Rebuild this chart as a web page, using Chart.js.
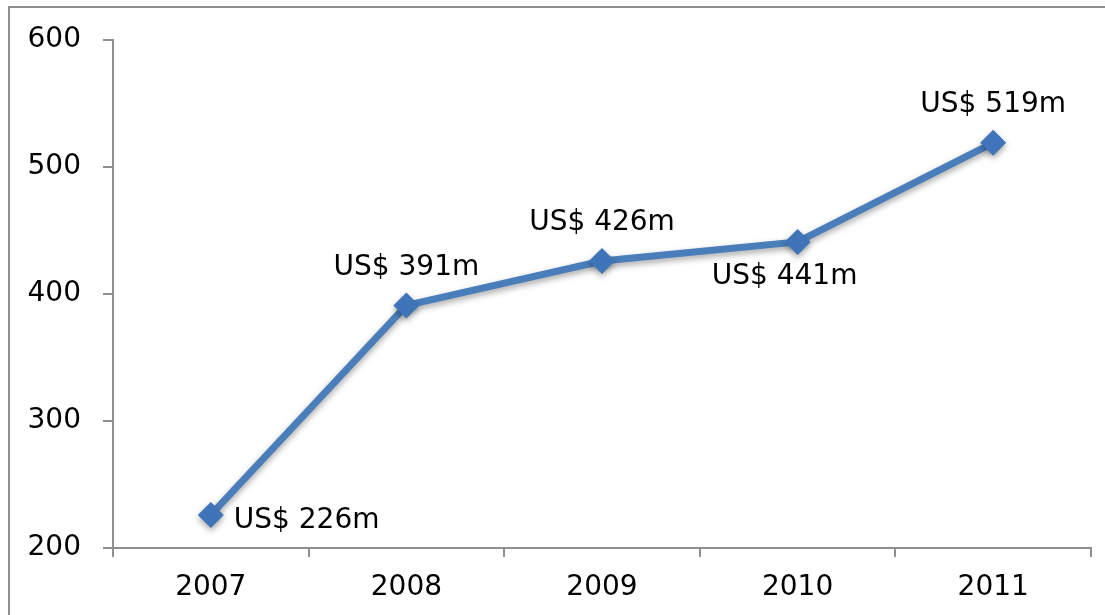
<!DOCTYPE html>
<html>
<head>
<meta charset="utf-8">
<script src="https://cdn.jsdelivr.net/npm/chart.js@4"></script>
<style>
  html, body { margin: 0; padding: 0; background: #fff; }
  #wrap { width: 1105px; height: 615px; position: relative; }
</style>
</head>
<body>
<div id="wrap"><canvas id="myChart" width="1105" height="615"></canvas></div>
<script>
const years = ['2007', '2008', '2009', '2010', '2011'];
const revenue = [226, 391, 426, 441, 519];
const yTicks = [200, 300, 400, 500, 600];
const labelSide = ['right', 'above', 'above', 'below', 'above'];

const FONT = '"DejaVu Sans", "Liberation Sans", sans-serif';

// gray frame round the whole chart, cut off at right and bottom
const framePlugin = {
    id: 'frame',
    beforeDraw(chart) {
        const c = chart.ctx;
        c.save();
        c.strokeStyle = '#8f8f8f';
        c.lineWidth = 2;
        c.strokeRect(9, 7, chart.width + 20, chart.height + 20);
        c.restore();
    }
};

const shadowPlugin = {
    id: 'shadow',
    beforeDatasetDraw(chart) {
        const c = chart.ctx;
        c.save();
        c.shadowColor = 'rgba(0,0,0,0.35)';
        c.shadowBlur = 6;
        c.shadowOffsetY = 3;
    },
    afterDatasetDraw(chart) {
        chart.ctx.restore();
    }
};

const valueLabels = {
    id: 'valueLabels',
    afterDatasetsDraw(chart) {
        const c = chart.ctx;
        const pts = chart.getDatasetMeta(0).data;
        c.save();
        c.font = '28px ' + FONT;
        c.fillStyle = '#000';
        c.textBaseline = 'middle';
        pts.forEach((p, i) => {
            const txt = 'US$ ' + revenue[i] + 'm';
            const side = labelSide[i];
            if (side === 'right') {
                c.textAlign = 'left';
                c.fillText(txt, p.x + 23, p.y + 6);
            } else if (side === 'above') {
                c.textAlign = 'center';
                c.fillText(txt, p.x, p.y - 38);
            } else {
                c.textAlign = 'center';
                c.fillText(txt, p.x - 13, p.y + 35);
            }
        });
        c.restore();
    }
};

const ctx = document.getElementById('myChart').getContext('2d');
const myChart = new Chart(ctx, {
    type: 'line',
    data: {
        labels: years,
        datasets: [{
            data: revenue,
            borderColor: '#4a7ebb',
            borderWidth: 7,
            backgroundColor: '#3f74b8',
            pointStyle: 'rectRot',
            pointRadius: 13,
            pointBorderWidth: 0,
            pointBackgroundColor: '#3f74b8',
            tension: 0,
            fill: false
        }]
    },
    options: {
        responsive: false,
        animation: false,
        devicePixelRatio: 1,
        layout: { padding: { top: 40, right: 14, left: 0, bottom: 0 } },
        plugins: {
            legend: { display: false },
            tooltip: { enabled: false }
        },
        scales: {
            x: {
                offset: true,
                grid: {
                    offset: true,
                    drawOnChartArea: false,
                    drawTicks: true,
                    tickLength: 9,
                    color: '#8f8f8f',
                    lineWidth: 2
                },
                border: { color: '#8f8f8f', width: 2 },
                ticks: {
                    color: '#000',
                    font: { family: FONT, size: 28 },
                    padding: 14,
                    maxRotation: 0
                },
                afterFit(scale) { scale.height = 67; }
            },
            y: {
                min: 200,
                max: 600,
                afterBuildTicks(scale) { scale.ticks = yTicks.map(v => ({ value: v })); },
                grid: {
                    drawOnChartArea: false,
                    drawTicks: true,
                    tickLength: 10,
                    color: '#8f8f8f',
                    lineWidth: 2
                },
                border: { color: '#8f8f8f', width: 2 },
                ticks: {
                    color: '#000',
                    font: { family: FONT, size: 28 },
                    padding: 22
                },
                afterFit(scale) { scale.width = 113; }
            }
        }
    },
    plugins: [framePlugin, shadowPlugin, valueLabels]
});
</script>
</body>
</html>
